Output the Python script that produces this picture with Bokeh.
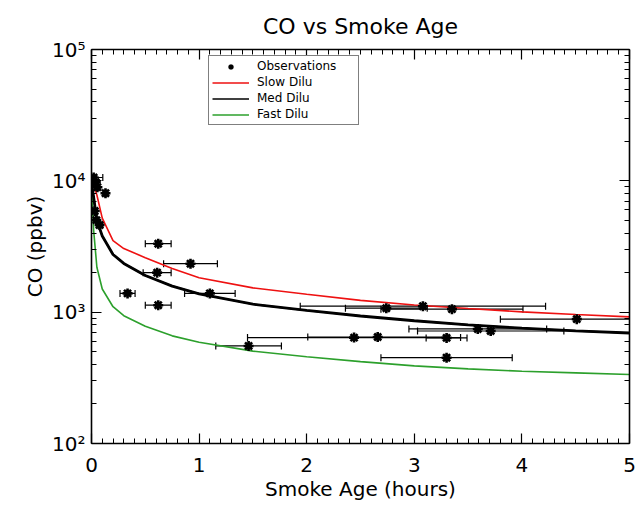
from bokeh.plotting import figure
from bokeh.models import (FixedTicker, LinearAxis, LogAxis, Whisker, ColumnDataSource,
                          Legend, LegendItem, TeeHead, CustomJSTickFormatter, Range1d)
from bokeh.embed import file_html
from bokeh.resources import INLINE

# ---------------- data ----------------
title_text = "CO vs Smoke Age"
x_label = "Smoke Age (hours)"
y_label = "CO (ppbv)"

x_ticks = [0, 1, 2, 3, 4, 5]
x_tick_labels = ["0", "1", "2", "3", "4", "5"]
y_ticks = [100, 1000, 10000, 100000]
y_tick_labels = ["10²", "10³", "10⁴", "10⁵"]

obs_age = [0.02, 0.04, 0.055, 0.13, 0.03, 0.045, 0.075,
           0.62, 0.92, 0.61, 0.335, 1.10, 0.62, 1.46,
           2.44, 2.66, 3.30, 2.74, 3.08, 3.35, 4.51, 3.59, 3.71, 3.30]
obs_co = [10600, 9750, 8940, 8050, 5890, 5020, 4610,
          3320, 2340, 2000, 1390, 1390, 1130, 553,
          640, 647, 637, 1072, 1110, 1054, 885, 745, 719, 450]
obs_age_err = [0.085, 0.01, 0.01, 0.01, 0.01, 0.01, 0.03,
               0.12, 0.25, 0.13, 0.07, 0.235, 0.12, 0.305,
               0.99, 0.65, 0.19, 0.38, 1.14, 0.66, 0.71, 0.64, 0.68, 0.61]

model_age = [0, 0.01, 0.02, 0.05, 0.1, 0.2, 0.3, 0.5, 0.75, 1.0,
             1.5, 2.0, 2.5, 3.0, 3.5, 4.0, 4.5, 5.0]
slow_co = [10000, 9700, 9300, 7800, 5200, 3500, 3050, 2600, 2150, 1830,
           1530, 1370, 1230, 1135, 1065, 1005, 960, 920]
med_co = [10000, 8500, 7500, 5000, 3800, 2750, 2350, 1900, 1580, 1380,
          1150, 1030, 935, 860, 800, 755, 720, 694]
fast_co = [10000, 6000, 4200, 2200, 1500, 1100, 940, 780, 660, 590,
           505, 458, 420, 390, 370, 355, 345, 335]

series_names = ["Slow Dilu", "Med Dilu", "Fast Dilu"]
series_colors = ["#ee1111", "#000000", "#2ca02c"]
obs_name = "Observations"

# ---------------- figure ----------------
FONT = "DejaVu Sans"

p = figure(width=636, height=507, x_range=Range1d(0, 5), y_range=Range1d(100, 100000),
           y_axis_type="log", output_backend="svg", toolbar_location=None,
           min_border_left=91, min_border_right=7, min_border_top=46, min_border_bottom=64)

p.title.text = title_text
p.title.align = "center"
p.title.text_font = FONT
p.title.text_font_size = "22px"
p.title.text_font_style = "normal"
p.title.text_color = "black"
p.title.standoff = 22

p.grid.visible = False
p.outline_line_color = None
p.background_fill_color = "white"
p.border_fill_color = "white"

xminor = [i / 10 for i in range(0, 51)]
yminor = [m * 10 ** e for e in range(2, 5) for m in range(2, 10)]


def style(ax, labels=True):
    ax.axis_line_color = "black"
    ax.axis_line_width = 1.6
    ax.major_tick_line_color = "black"
    ax.minor_tick_line_color = "black"
    ax.major_tick_line_width = 1.2
    ax.minor_tick_line_width = 1.0
    ax.major_tick_in = 10
    ax.major_tick_out = 0
    ax.minor_tick_in = 5
    ax.minor_tick_out = 0
    ax.major_label_text_font = FONT
    ax.major_label_text_font_size = "20px"
    ax.major_label_text_color = "black"
    ax.axis_label_text_font = FONT
    ax.axis_label_text_font_size = "20px"
    ax.axis_label_text_font_style = "normal"
    ax.axis_label_text_color = "black"
    if not labels:
        ax.formatter = CustomJSTickFormatter(code="return ''")
        ax.major_label_standoff = 0


xa = p.xaxis[0]
xa.ticker = FixedTicker(ticks=x_ticks, minor_ticks=xminor)
xa.major_label_overrides = {t: l for t, l in zip(x_ticks, x_tick_labels)}
xa.axis_label = x_label
style(xa)
xa.major_label_standoff = 14
xa.axis_label_standoff = 2

ya = p.yaxis[0]
ya.ticker = FixedTicker(ticks=y_ticks, minor_ticks=yminor)
ya.major_label_overrides = {t: l for t, l in zip(y_ticks, y_tick_labels)}
ya.axis_label = y_label
style(ya)
ya.major_label_standoff = 6
ya.axis_label_standoff = 2

top = LinearAxis(ticker=FixedTicker(ticks=x_ticks, minor_ticks=xminor))
style(top, labels=False)
p.add_layout(top, "above")

right = LogAxis(ticker=FixedTicker(ticks=y_ticks, minor_ticks=yminor))
style(right, labels=False)
p.add_layout(right, "right")

# model curves: thin lines (used by the legend), the medium one redrawn thick on top
legend_lines = []
for ys, col in zip([slow_co, med_co, fast_co], series_colors):
    legend_lines.append(p.line(model_age, ys, line_color=col, line_width=1.6))
p.line(model_age, med_co, line_color=series_colors[1], line_width=2.8)

# observations with x error bars
lower = [a - e for a, e in zip(obs_age, obs_age_err)]
upper = [a + e for a, e in zip(obs_age, obs_age_err)]
src = ColumnDataSource(dict(age=obs_age, co=obs_co, lower=lower, upper=upper))
wh = Whisker(source=src, base="co", lower="lower", upper="upper", dimension="width",
             line_color="black", line_width=1.2,
             lower_head=TeeHead(size=7, line_color="black", line_width=1.2),
             upper_head=TeeHead(size=7, line_color="black", line_width=1.2))
p.add_layout(wh)
obs_r = p.scatter("age", "co", source=src, marker="asterisk", size=10,
                  line_color="black", line_width=2.6)

legend = Legend(items=[LegendItem(label=obs_name, renderers=[obs_r])] +
                [LegendItem(label=n, renderers=[r]) for n, r in zip(series_names, legend_lines)],
                location=(117, 318))
legend.border_line_color = "black"
legend.border_line_width = 1.2
legend.background_fill_color = "white"
legend.background_fill_alpha = 1
legend.label_text_font = FONT
legend.label_text_font_size = "12px"
legend.label_text_color = "black"
legend.glyph_width = 37
legend.glyph_height = 13
legend.label_height = 13
legend.label_width = 98
legend.spacing = 2
legend.padding = 3
legend.margin = 0
legend.label_standoff = 8
p.add_layout(legend)

open("out.html", "w").write(file_html(p, INLINE))
